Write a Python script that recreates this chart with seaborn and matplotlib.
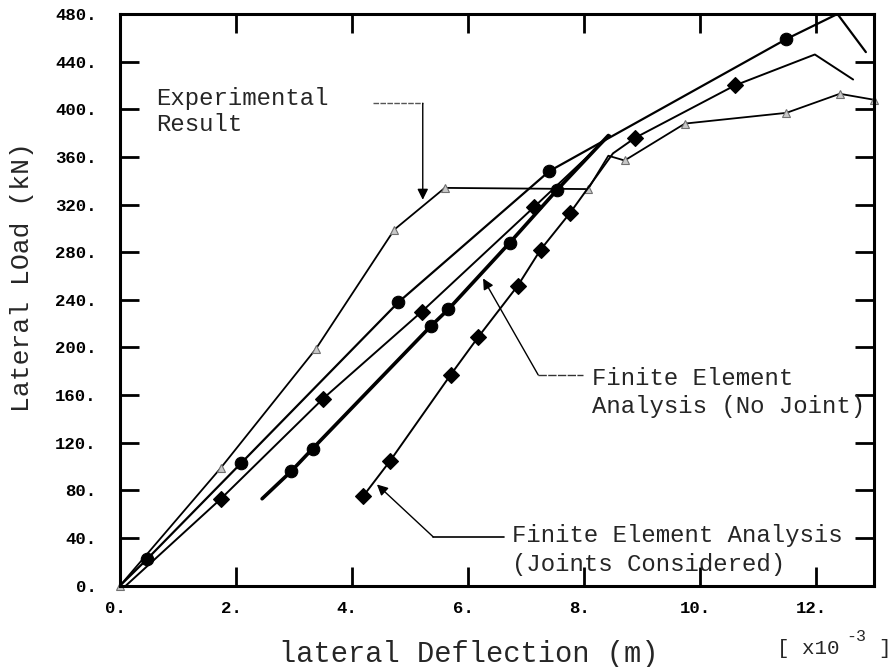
import matplotlib
matplotlib.use("Agg")
import matplotlib.pyplot as plt
import seaborn as sns
import pandas as pd
from matplotlib.transforms import ScaledTranslation

# ---------------- data ----------------
exp_x = [0.0, 1.74, 3.38, 4.73, 5.60, 8.07, 8.42, 8.70, 9.74, 11.49, 12.41, 13.0]
exp_y = [0, 99, 199, 299, 334, 333, 361, 357, 388, 397, 413, 408]
exp_marks = [0, 1, 2, 3, 4, 5, 7, 8, 9, 10, 11]

a_x = [0.0, 0.46, 2.09, 4.80, 7.40, 11.49, 12.37, 12.86]
a_y = [0, 22, 103, 238, 348, 459, 480, 448]
a_marks = [1, 2, 3, 4, 5]

b_x = [0.10, 1.74, 3.50, 5.20, 7.14, 8.45]
b_y = [0, 73, 157, 230, 318, 378]
b_marks = [1, 2, 3, 4]

c_x = [2.45, 2.95, 3.32, 5.36, 5.66, 6.72, 7.53, 8.42]
c_y = [73, 96, 115, 218, 232, 288, 332, 378]
c_marks = [1, 2, 3, 4, 5, 6]

d_x = [4.19, 4.66, 5.70, 6.18, 6.86, 7.25, 7.76, 8.50, 8.88, 10.60, 11.98, 12.64]
d_y = [75, 105, 177, 209, 252, 282, 313, 363, 376, 420, 446, 425]
d_marks = [0, 1, 2, 3, 4, 5, 6, 8, 9]

x_ticks = [0, 2, 4, 6, 8, 10, 12]
x_ticklabels = ["0.", "2.", "4.", "6.", "8.", "10.", "12."]
y_ticks = [0, 40, 80, 120, 160, 200, 240, 280, 320, 360, 400, 440, 480]
y_ticklabels = ["0.", "40.", "80.", "120.", "160.", "200.", "240.", "280.",
                "320.", "360.", "400.", "440.", "480."]

x_label = "lateral Deflection (m)"
y_label = "Lateral LOad (kN)"
txt_exp = "Experimental\nResult"
txt_nojoint = "Finite Element\nAnalysis (No Joint)"
txt_joint = "Finite Element Analysis\n(Joints Considered)"

# ---------------- styling ----------------
sns.set_style("ticks")
plt.rcParams["font.family"] = ["Liberation Mono", "DejaVu Sans"]

W, H = 890, 667
fig = plt.figure(figsize=(W / 100, H / 100), dpi=100)
L, R, T, B = 120, 874, 14, 585.7
ax = fig.add_axes([L / W, 1 - B / H, (R - L) / W, (B - T) / H])

def draw(xs, ys, marks, lw, marker, ms, mfc, mec, clip=True):
    df = pd.DataFrame({"x": xs, "y": ys})
    sns.lineplot(data=df, x="x", y="y", sort=False, estimator=None, ax=ax,
                 color="black", lw=lw, marker=marker, markersize=ms,
                 markerfacecolor=mfc, markeredgecolor=mec, markeredgewidth=0.8,
                 markevery=marks, clip_on=clip)

draw(exp_x, exp_y, exp_marks, 1.3, "^", 6, "#c8c8c8", "#707070", clip=False)
draw(a_x, a_y, a_marks, 1.6, "o", 9, "black", "black")
draw(b_x, b_y, b_marks, 1.4, "D", 8.5, "black", "black")
draw(c_x, c_y, c_marks, 2.6, "o", 9, "black", "black")
draw(d_x, d_y, d_marks, 1.4, "D", 8.5, "black", "black")

ax.set_xlim(0, 13)
ax.set_ylim(0, 480)
ax.set_xticks(x_ticks)
ax.set_xticklabels(x_ticklabels)
ax.set_yticks(y_ticks)
ax.set_yticklabels(y_ticklabels)
ax.set_xlabel("")
ax.set_ylabel("")
ax.tick_params(direction="in", length=14, width=2, top=True, right=True,
               labeltop=False, labelright=False, colors="black", labelsize=12.5)
ax.tick_params(axis="y", pad=17)
ax.tick_params(axis="x", pad=11)
for lbl in ax.get_xticklabels() + ax.get_yticklabels():
    lbl.set_fontweight("bold")
for lbl in ax.get_xticklabels():
    lbl.set_transform(lbl.get_transform() + ScaledTranslation(-0.05, 0, fig.dpi_scale_trans))
for s in ax.spines.values():
    s.set_visible(True)
    s.set_linewidth(2.2)
    s.set_color("black")

# ---------------- annotations ----------------
arrow = dict(arrowstyle="-|>", mutation_scale=16, lw=1.0, color="black",
             shrinkA=0, shrinkB=0)
fs_note = 17.3

# Experimental
ax.text(0.62, 398, txt_exp, fontsize=fs_note, va="center", ha="left", linespacing=1.15)
ax.plot([4.36, 5.22], [405, 405], color="#555555", lw=1.0, ls=(0, (4, 1)))
ax.annotate("", xy=(5.22, 324), xytext=(5.22, 405), arrowprops=arrow)

# FE no joint
ax.text(8.14, 162, txt_nojoint, fontsize=fs_note, va="center", ha="left", linespacing=1.3)
ax.plot([7.21, 7.98], [177, 177], color="#333333", lw=1.0, ls=(0, (6, 1)))
ax.annotate("", xy=(6.26, 258), xytext=(7.21, 177), arrowprops=arrow)

# FE joints considered
ax.text(6.75, 30, txt_joint, fontsize=fs_note, va="center", ha="left", linespacing=1.3)
ax.plot([5.40, 6.62], [41, 41], color="black", lw=1.2)
ax.annotate("", xy=(4.43, 85), xytext=(5.40, 41), arrowprops=arrow)

# ---------------- axis labels ----------------
fig.text(469 / W, 1 - 662 / H, x_label, fontsize=20.7, ha="center", va="baseline")
fig.text(22 / W, 1 - 277 / H, y_label, fontsize=19, ha="center", va="center",
         rotation=90)
fig.text(777 / W, 1 - 654 / H, "[ x10", fontsize=15, ha="left", va="baseline")
fig.text(846 / W, 1 - 641 / H, "-3", fontsize=12, ha="left", va="baseline")
fig.text(878 / W, 1 - 654 / H, "]", fontsize=15, ha="left", va="baseline")

fig.savefig("out.png", dpi=100)
